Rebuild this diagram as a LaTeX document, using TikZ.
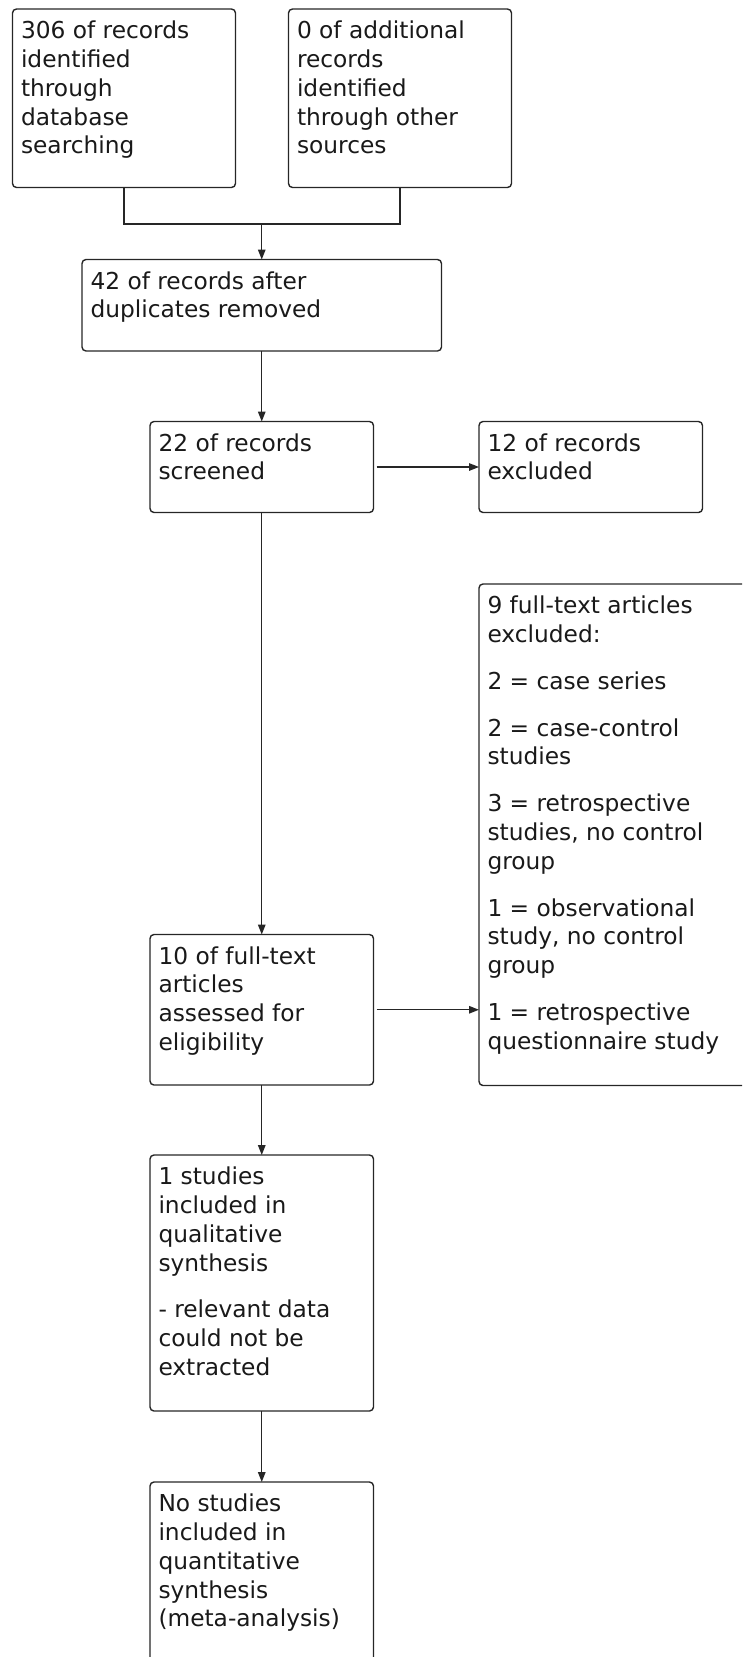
\documentclass[tikz,border=0pt]{standalone}
\usepackage{fontspec}
\setmainfont{DejaVu Sans}
\usetikzlibrary{arrows.meta}
\tikzset{
  x=1pt, y=1pt,
  boxstyle/.style={draw=black!85, line width=1.4pt, rounded corners=4pt, inner sep=0pt, outer sep=0pt, anchor=north west},
  txt/.style={inner sep=0pt, outer sep=0pt, anchor=north west, align=left, text=black!90,
    font=\fontsize{23.3}{28.8}\selectfont},
  conn/.style={draw=black!85, line width=1.4pt},
  arr/.style={conn, -{Triangle[length=10pt,width=7.5pt]}},
}
\begin{document}
\begin{tikzpicture}
\useasboundingbox (0,0) rectangle (742,-1657);
\clip (0,0) rectangle (742,-1657);
% boxes
\node[boxstyle, minimum width=223, minimum height=178.5] (b1) at (12.5,-9) {};
\node[boxstyle, minimum width=223, minimum height=178.5] (b2) at (288.5,-9) {};
\node[boxstyle, minimum width=359.5, minimum height=91.5] (b3) at (82,-259.5) {};
\node[boxstyle, minimum width=223.5, minimum height=91] (b4) at (150,-421.5) {};
\node[boxstyle, minimum width=223.5, minimum height=91] (b5) at (479,-421.5) {};
\node[boxstyle, minimum width=290, minimum height=501.5] (b6) at (479,-584) {};
\node[boxstyle, minimum width=223.5, minimum height=150.5] (b7) at (150,-934.5) {};
\node[boxstyle, minimum width=223.5, minimum height=256] (b8) at (150,-1155) {};
\node[boxstyle, minimum width=223.5, minimum height=210] (b9) at (150,-1482) {};
% texts
\node[txt] (t1) at ([shift={(8.5,-9.5)}]b1.north west) {\strut 306 of records\\identified\\through\\database\\searching};
\node[txt] (t2) at ([shift={(8.5,-9.5)}]b2.north west) {\strut 0 of additional\\records\\identified\\through other\\sources};
\node[txt] (t3) at ([shift={(8.5,-9.5)}]b3.north west) {\strut 42 of records after\\duplicates removed};
\node[txt] (t4) at ([shift={(8.5,-9.5)}]b4.north west) {\strut 22 of records\\screened};
\node[txt] (t5) at ([shift={(8.5,-9.5)}]b5.north west) {\strut 12 of records\\excluded};
\node[txt] (t6) at ([shift={(8.5,-9.5)}]b6.north west) {\strut 9 full-text articles\\excluded:\\[18pt]2 = case series\\[18pt]2 = case-control\\studies\\[18pt]3 = retrospective\\studies, no control\\group\\[18pt]1 = observational\\study, no control\\group\\[18pt]1 = retrospective\\questionnaire study};
\node[txt] (t7) at ([shift={(8.5,-9.5)}]b7.north west) {\strut 10 of full-text\\articles\\assessed for\\eligibility};
\node[txt] (t8) at ([shift={(8.5,-9.5)}]b8.north west) {\strut 1 studies\\included in\\qualitative\\synthesis\\[18pt]- relevant data\\could not be\\extracted};
\node[txt] (t9) at ([shift={(8.5,-9.5)}]b9.north west) {\strut No studies\\included in\\quantitative\\synthesis\\(meta-analysis)};
% connectors
\coordinate (m1) at (b1.south |- 0,-224);
\coordinate (m2) at (b2.south |- 0,-224);
\coordinate (mc) at (b3.north |- 0,-224);
\draw[conn] (b1.south) -- (m1) -- (m2) -- (b2.south);
\draw[arr] (mc) -- (b3.north);
\draw[arr] (b3.south) -- (b4.north);
\draw[arr, shorten <=3pt] (b4.east) -- (b5.west);
\draw[arr] (b4.south) -- (b7.north);
\draw[arr, shorten <=3pt] (b7.east) -- (b7.east -| b6.west);
\draw[arr] (b7.south) -- (b8.north);
\draw[arr] (b8.south) -- (b9.north);
\end{tikzpicture}
\end{document}
